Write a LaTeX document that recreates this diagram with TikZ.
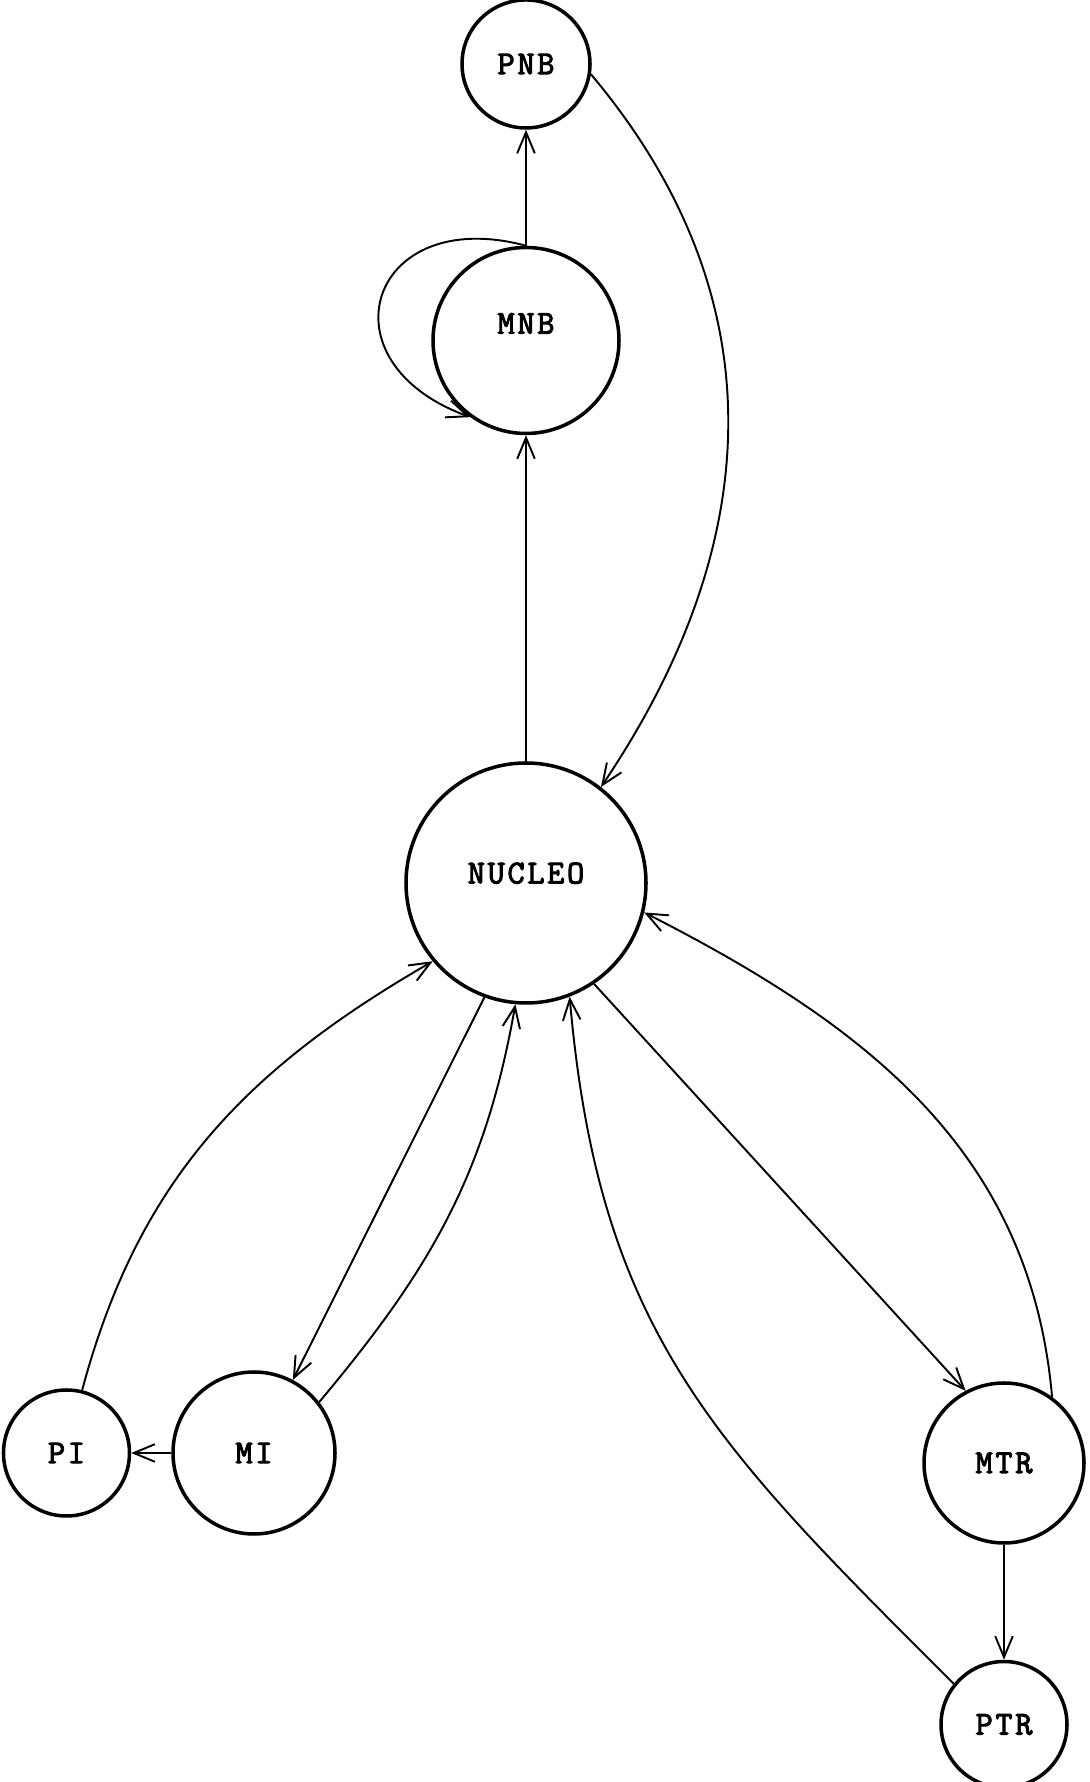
\documentclass[tikz,border=0pt]{standalone}
\usepackage{fontspec}
\newfontfamily\maquina{Latin Modern Mono}[FakeBold=3, LetterSpace=8]
\usetikzlibrary{positioning,arrows.meta}

\begin{document}
\begin{tikzpicture}[
        font=\maquina\fontsize{19}{22}\selectfont,
        >={Straight Barb[length=12pt,width=10pt]},
        nodo/.style={circle, draw, line width=2pt, inner sep=0pt, minimum size=#1},
        subir/.style={text depth=#1},
        flecha/.style={->, line width=1.1pt},
    ]
    \useasboundingbox (0,0) rectangle (21.78,35.64);

    % nodo central y rama superior
    \node[nodo=4.8cm, subir=0.4cm] (nucleo) at (10.52,17.98) {NUCLEO};
    \node[nodo=3.72cm, subir=0.68cm, above=6.52cm of nucleo] (mnb) {MNB};
    \node[nodo=2.56cm, above=2.32cm of mnb] (pnb) {PNB};

    % rama izquierda
    \node[nodo=3.24cm] (mi) at (5.08,6.58) {MI};
    \node[nodo=2.52cm, left=0.8cm of mi] (pi) {PI};

    % rama derecha
    \node[nodo=3.2cm] (mtr) at (20.08,6.38) {MTR};
    \node[nodo=2.52cm, below=2.3cm of mtr] (ptr) {PTR};

    % conexiones de la rama superior
    \draw[flecha] (nucleo.north) -- (mnb.south);
    \draw[flecha] (mnb.north) -- (pnb.south);
    \draw[flecha] (mnb.north) to[out=165, in=160, looseness=2.3] (mnb.234);
    \draw[flecha] (pnb.-9) to[out=-50, in=56, looseness=1.05] (nucleo.52);

    % conexiones de la rama izquierda
    \draw[flecha] (nucleo.250) -- (mi.62);
    \draw[flecha] (mi.38) to[out=50, in=-100] (nucleo.265);
    \draw[flecha] (mi.west) -- (pi.east);
    \draw[flecha] (pi.76) to[out=75, in=210] (nucleo.220);

    % conexiones de la rama derecha
    \draw[flecha] (nucleo.304) -- (mtr.118);
    \draw[flecha] (mtr.54) to[out=95, in=-27] (nucleo.346);
    \draw[flecha] (mtr.south) -- (ptr.north);
    \draw[flecha] (ptr.141) to[out=135, in=-85, looseness=1.1] (nucleo.291);

\end{tikzpicture}
\end{document}
